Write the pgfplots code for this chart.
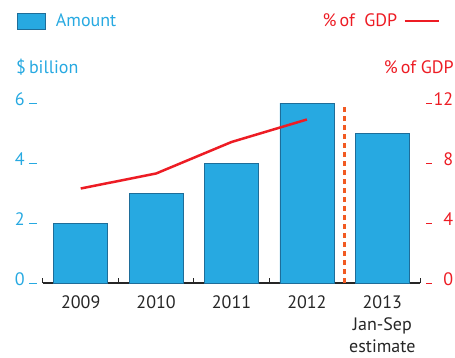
\documentclass[border=0pt]{standalone}
\usepackage{fontspec}
\setmainfont{PT Sans}
\usepackage{pgfplots}
\pgfplotsset{compat=1.18}

\definecolor{barblue}{HTML}{27A9E1}
\definecolor{edgeblue}{HTML}{1E6D99}
\definecolor{gdpred}{HTML}{ED1C24}
\definecolor{sepor}{HTML}{F15A22}
\definecolor{axdark}{HTML}{262626}

% tick labels with the small detached dash
\newcommand{\lt}[1]{#1\hspace{4pt}\rule[2pt]{8pt}{0.9pt}}
\newcommand{\rt}[1]{\rule[2pt]{6pt}{0.9pt}\hspace{5pt}\makebox[16pt][r]{#1}}

\pgfplotsset{
  boxlegend/.style={legend image code/.code={\draw[##1] (0pt,-8pt) rectangle (28pt,8pt);}},
  linelegend/.style={legend image code/.code={\draw[##1] (0pt,0pt) -- (34pt,0pt);}},
  common/.style={
    scale only axis,
    width=377pt, height=180pt,
    xmin=-0.5, xmax=4.5,
    clip=false,
    major tick length=0pt,
    /pgf/number format/assume math mode=true,
    font=\fontsize{18}{22}\selectfont,
  },
}

\begin{document}
\begin{tikzpicture}
\begin{axis}[
  common,
  ymin=0, ymax=6,
  axis x line*=bottom,
  axis y line*=left,
  y axis line style={draw=none},
  x axis line style={line width=1.6pt, color=axdark},
  xtick={0,...,4},
  xticklabels={2009,2010,2011,2012,{2013\\Jan-Sep\\estimate}},
  minor xtick={-0.5,0.5,1.5,2.5,4.5},
  minor tick length=5pt,
  tick align=inside,
  xtick pos=bottom,
  minor x tick style={line width=1pt, color=axdark},
  x tick label style={align=center, text=axdark, inner sep=0pt, anchor=north, yshift=-12pt},
  ytick={0,2,4,6},
  yticklabels={\lt{0},\lt{2},\lt{4},\lt{6}},
  y tick label style={text=barblue, inner sep=0pt, anchor=base east, xshift=-6pt, yshift=-2.5pt},
  ylabel={\$\,billion},
  ylabel style={at={(axis description cs:-0.0716,1.2)}, rotate=-90, anchor=west, text=barblue, inner sep=0pt},
  legend style={at={(axis description cs:-0.069,1.456)}, anchor=west, draw=none, fill=none,
    inner sep=0pt, text=barblue, nodes={inner sep=0pt}, column sep=10pt},
  legend columns=-1,
]
\addplot[ybar, bar width=54pt, fill=barblue, draw=edgeblue, line width=0.7pt, boxlegend]
  coordinates {(0,2) (1,3) (2,4) (3,6) (4,5)};
\addlegendentry{Amount}
\draw[sepor, line width=2.5pt, dash pattern=on 5pt off 4pt] (axis cs:3.5,0) -- (axis cs:3.5,6);
\end{axis}

\begin{axis}[
  common,
  ymin=0, ymax=12,
  axis x line=none,
  axis y line*=right,
  y axis line style={draw=none},
  ytick={0,4,8,12},
  yticklabels={\rt{0},\rt{4},\rt{8},\rt{12}},
  y tick label style={text=gdpred, inner sep=0pt, anchor=base west, xshift=6pt, yshift=-2.5pt},
  ylabel={\%\,of GDP},
  ylabel style={at={(axis description cs:1.090,1.2)}, rotate=-90, anchor=east, text=gdpred, inner sep=0pt},
  legend style={at={(axis description cs:1.053,1.456)}, anchor=east, draw=none, fill=none,
    inner sep=0pt, text=gdpred, nodes={inner sep=0pt}, column sep=6pt},
  legend plot pos=right,
  legend columns=-1,
]
\addplot[gdpred, line width=2.5pt, linelegend]
  coordinates {(0,6.3) (1,7.3) (2,9.4) (3,10.9)};
\addlegendentry{\%\,of\ \ GDP}
\end{axis}
\pgfresetboundingbox
\useasboundingbox (-43pt,-74pt) rectangle (412pt,283pt);
\end{tikzpicture}
\end{document}
